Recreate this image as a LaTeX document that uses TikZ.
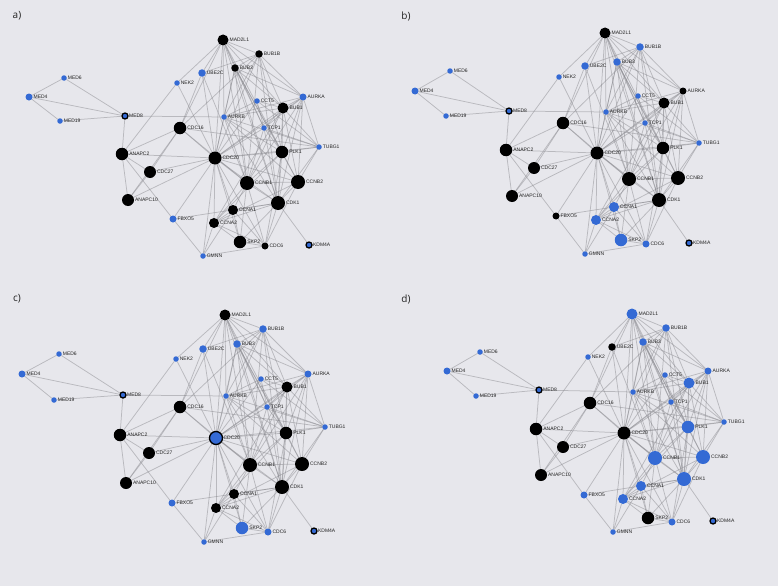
\documentclass[tikz,border=0pt]{standalone}
\usepackage{fontspec}
\newfontfamily\lblfont{Liberation Sans}
\newfontfamily\panfont{Open Sans}
\usetikzlibrary{backgrounds}
\definecolor{bgc}{RGB}{231,231,236}
\definecolor{nblue}{RGB}{52,106,212}
\definecolor{edgec}{RGB}{135,135,141}
\definecolor{txtc}{RGB}{35,35,35}
\tikzset{
  nd/.style={circle,inner sep=0pt,outer sep=0pt},
  bk/.style={fill=black},
  bl/.style={fill=nblue},
  rg/.style={fill=nblue,draw=black,line width=1.3pt},
  lbl/.style={anchor=west,inner sep=0pt,text=txtc,font=\lblfont\fontsize{5}{6}\selectfont},
  pan/.style={inner sep=0pt,text=txtc,font=\panfont\fontsize{10}{12}\selectfont},
  edge/.style={draw=edgec,opacity=0.48,line width=0.75pt}
}
\newcommand\setnsz[2]{\expandafter\def\csname nsz#1\endcsname{#2}}
\setnsz{MAD2L1}{11}\setnsz{BUB1B}{7.5}\setnsz{BUB3}{7.5}\setnsz{UBE2C}{7.5}
\setnsz{NEK2}{5.5}\setnsz{MED6}{5.5}\setnsz{MED4}{7}\setnsz{MED19}{5.5}
\setnsz{MED8}{6}\setnsz{AURKA}{7}\setnsz{CCT5}{5.5}\setnsz{BUB1}{11}
\setnsz{AURKB}{5.5}\setnsz{TCP1}{5.5}\setnsz{CDC16}{12.5}\setnsz{TUBG1}{5.5}
\setnsz{ANAPC2}{12.5}\setnsz{CDC20}{13}\setnsz{PLK1}{12.5}\setnsz{CDC27}{12}
\setnsz{CCNB1}{14}\setnsz{CCNB2}{14}\setnsz{ANAPC10}{12}\setnsz{CDK1}{14}
\setnsz{CCNA1}{10}\setnsz{FBXO5}{7}\setnsz{CCNA2}{10}\setnsz{SKP2}{12.5}
\setnsz{CDC6}{7}\setnsz{KDM4A}{6}\setnsz{GMNN}{5.5}
\def\edgelist{MED6/MED4,MED4/MED19,MED6/MED8,MED4/MED8,MED19/MED8,MED8/ANAPC2,MED8/AURKB,
NEK2/ANAPC2,NEK2/MAD2L1,NEK2/CDC20,
UBE2C/MAD2L1,UBE2C/BUB1B,UBE2C/CDC20,UBE2C/CDC16,UBE2C/CCNB1,
MAD2L1/BUB1B,MAD2L1/BUB3,MAD2L1/BUB1,MAD2L1/CDC20,MAD2L1/AURKB,MAD2L1/CDC16,MAD2L1/AURKA,MAD2L1/PLK1,MAD2L1/CCNB1,MAD2L1/CDK1,MAD2L1/TCP1,
BUB1B/BUB3,BUB1B/BUB1,BUB1B/CDC20,BUB1B/AURKA,BUB1B/PLK1,BUB1B/CCNB1,BUB1B/CDK1,BUB1B/AURKB,BUB1B/CDC16,
BUB3/BUB1,BUB3/CDC20,BUB3/AURKA,BUB3/PLK1,BUB3/CCNB1,BUB3/CDK1,BUB3/AURKB,BUB3/TCP1,BUB3/CCNB2,
AURKA/BUB1,AURKA/PLK1,AURKA/TUBG1,AURKA/CCNB1,AURKA/CDK1,AURKA/CDC20,AURKA/AURKB,AURKA/CCNB2,AURKA/TCP1,
CCT5/TCP1,CCT5/AURKB,CCT5/CDC20,CCT5/BUB1,CCT5/TUBG1,
BUB1/AURKB,BUB1/CDC20,BUB1/PLK1,BUB1/CCNB1,BUB1/CCNB2,BUB1/CDK1,BUB1/TUBG1,BUB1/TCP1,BUB1/CCNA2,
AURKB/CDC20,AURKB/PLK1,AURKB/CCNB1,AURKB/CDK1,AURKB/TUBG1,AURKB/CCNB2,
TCP1/CDC20,TCP1/PLK1,TCP1/TUBG1,TCP1/CCNB1,TCP1/CDK1,
CDC16/ANAPC2,CDC16/CDC27,CDC16/ANAPC10,CDC16/CDC20,CDC16/CCNB1,CDC16/TUBG1,
ANAPC2/CDC20,ANAPC2/CDC27,ANAPC2/ANAPC10,ANAPC2/FBXO5,
CDC27/CDC20,CDC27/ANAPC10,ANAPC10/CDC20,
CDC20/PLK1,CDC20/CCNB1,CDC20/CCNB2,CDC20/CDK1,CDC20/CCNA1,CDC20/CCNA2,CDC20/SKP2,CDC20/CDC6,CDC20/GMNN,CDC20/FBXO5,CDC20/TUBG1,
PLK1/TUBG1,PLK1/CCNB1,PLK1/CCNB2,PLK1/CDK1,PLK1/CCNA2,PLK1/CDC6,
CCNB1/CCNB2,CCNB1/CDK1,CCNB1/CCNA1,CCNB1/CCNA2,CCNB1/SKP2,CCNB1/CDC6,
CCNB2/CDK1,CCNB2/TUBG1,CCNB2/CCNA2,CCNB2/CDC6,
CDK1/CCNA1,CDK1/CCNA2,CDK1/SKP2,CDK1/CDC6,CDK1/KDM4A,CDK1/TUBG1,CDK1/FBXO5,
CCNA1/CCNA2,CCNA1/SKP2,CCNA1/CDC6,CCNA1/GMNN,
CCNA2/SKP2,CCNA2/CDC6,CCNA2/GMNN,SKP2/CDC6,GMNN/CDC6,GMNN/FBXO5}
\def\panelA{MAD2L1/223/40/bk,BUB1B/259/54/bk,BUB3/235/68/bk,UBE2C/202/73/bl,NEK2/177/83/bl,
MED6/64/78/bl,MED4/29/97/bl,MED19/60/121/bl,MED8/125/116/rg,AURKA/303/97/bl,CCT5/257/101/bl,
BUB1/283/108/bk,AURKB/224/117/bl,TCP1/264/128/bl,CDC16/180/128/bk,TUBG1/319/147/bl,
ANAPC2/122/154/bk,CDC20/215/158/bk,PLK1/282/152/bk,CDC27/150/172/bk,CCNB1/247/183/bk,
CCNB2/298/182/bk,ANAPC10/128/200/bk,CDK1/278/203/bk,CCNA1/233/210/bk,FBXO5/173/219/bl,
CCNA2/214/223/bk,SKP2/240/242/bk,CDC6/265/246/bk,KDM4A/309/245/rg,GMNN/203/256/bl}
\def\panelB{MAD2L1/605/33/bk,BUB1B/640/47/bl,BUB3/617/62/bl,UBE2C/585/66/bl,NEK2/559/77/bl,
MED6/450/71/bl,MED4/415/91/bl,MED19/446/116/bl,MED8/509/111/rg,AURKA/683/91/bk,CCT5/638/96/bl,
BUB1/664/103/bk,AURKB/606/112/bl,TCP1/645/123/bl,CDC16/563/123/bk,TUBG1/699/143/bl,
ANAPC2/506/150/bk,CDC20/597/153/bk,PLK1/663/148/bk,CDC27/534/168/bk,CCNB1/629/179/bk,
CCNB2/678/178/bk,ANAPC10/512/196/bk,CDK1/659/200/bk,CCNA1/614/207/bl,FBXO5/556/216/bk,
CCNA2/596/220/bl,SKP2/621/240/bl,CDC6/646/244/bl,KDM4A/689/243/rg,GMNN/585/254/bl}
\def\panelC{MAD2L1/225/315/bk,BUB1B/263/329/bl,BUB3/237/344/bl,UBE2C/203/349/bl,NEK2/176/359/bl,
MED6/59/354/bl,MED4/22/374/bl,MED19/54/400/bl,MED8/123/395/rg,AURKA/308/374/bl,CCT5/261/379/bl,
BUB1/287/387/bk,AURKB/226/396/bl,TCP1/267/407/bl,CDC16/180/407/bk,TUBG1/325/427/bl,
ANAPC2/120/435/bk,CDC20/216/438/rg,PLK1/286/433/bk,CDC27/149/453/bk,CCNB1/250/465/bk,
CCNB2/302/464/bk,ANAPC10/126/483/bk,CDK1/282/487/bk,CCNA1/234/494/bk,FBXO5/172/503/bl,
CCNA2/216/508/bk,SKP2/242/528/bl,CDC6/268/532/bl,KDM4A/314/531/rg,GMNN/204/542/bl}
\def\panelD{MAD2L1/632/314/bl,BUB1B/666/328/bl,BUB3/643/342/bl,UBE2C/612/347/bk,NEK2/588/357/bl,
MED6/480/352/bl,MED4/447/371/bl,MED19/476/396/bl,MED8/539/390/rg,AURKA/708/371/bl,CCT5/665/375/bl,
BUB1/689/383/bl,AURKB/633/392/bl,TCP1/671/402/bl,CDC16/590/403/bk,TUBG1/724/422/bl,
ANAPC2/536/429/bk,CDC20/624/433/bk,PLK1/688/427/bl,CDC27/563/447/bk,CCNB1/655/458/bl,
CCNB2/703/457/bl,ANAPC10/541/475/bk,CDK1/684/479/bl,CCNA1/641/486/bl,FBXO5/584/495/bl,
CCNA2/623/499/bl,SKP2/648/518/bk,CDC6/672/522/bl,KDM4A/713/521/rg,GMNN/613/532/bl}
\newcommand\drawpanel[2]{%
  \foreach \n/\x/\y/\c in #2 {%
    \node[nd,\c,minimum size=\csname nsz\n\endcsname pt] (#1\n) at (\x,\y) {};
    \node[lbl] (#1\n-t) at ([xshift=0.9pt]#1\n.east) {\n};
  }
  \begin{pgfonlayer}{background}
    \foreach \u/\v in \edgelist {\draw[edge] (#1\u) -- (#1\v);}
  \end{pgfonlayer}
}
\begin{document}
\begin{tikzpicture}[x=1pt,y=-1pt]
\useasboundingbox (0,0) rectangle (778,586);
\begin{pgfonlayer}{background}
\fill[bgc] (0,0) rectangle (778,586);
\end{pgfonlayer}
\drawpanel{a}{\panelA}
\drawpanel{b}{\panelB}
\drawpanel{c}{\panelC}
\drawpanel{d}{\panelD}
\node[pan] (la) at (17,16) {a)};
\node[pan] (lb) at (406,16) {b)};
\node[pan] (lc) at (17,299) {c)};
\node[pan] (ld) at (406,299) {d)};
\end{tikzpicture}
\end{document}
